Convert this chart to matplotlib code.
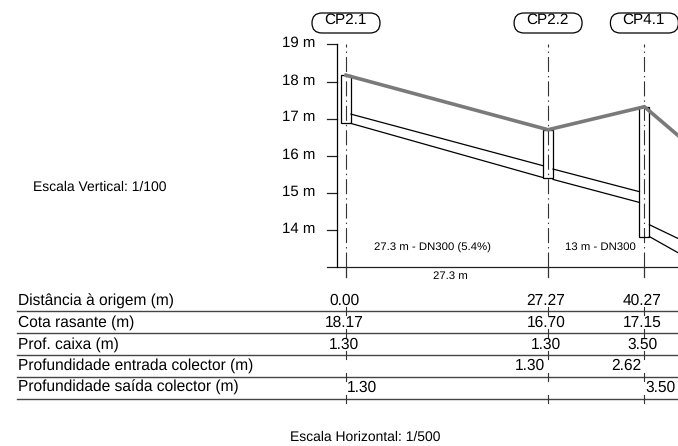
import matplotlib
matplotlib.use('Agg')
import matplotlib.pyplot as plt
from matplotlib.patches import FancyBboxPatch, Rectangle

plt.rcParams['font.family'] = ['Liberation Sans', 'DejaVu Sans']
plt.rcParams['lines.scale_dashes'] = False
plt.rcParams['text.hinting'] = 'no_hinting'

# stations
names = ['CP2.1', 'CP2.2', 'CP4.1']
dist = [0.0, 27.27, 40.27]
top = [18.17, 16.70, 17.32]
bottom = [16.87, 15.39, 13.82]

# grey surface line, last point is past the right edge
surf_x = [0.0, 27.27, 40.27, 50.0]
surf_z = [18.17, 16.70, 17.32, 15.66]

# pipes
pipe_x = [[0.67, 26.6], [27.94, 39.6], [40.94, 50.0]]
pipe_up = [[17.12, 15.73], [15.64, 15.03], [14.14, 13.27]]
pipe_lo = [[16.87, 15.41], [15.36, 14.74], [13.82, 12.80]]
box_half = 0.67

yticks = [14, 15, 16, 17, 18, 19]

row_labels = ['Distância à origem (m)', 'Cota rasante (m)', 'Prof. caixa (m)',
              'Profundidade entrada colector (m)', 'Profundidade saída colector (m)']
row_dist = ['0.00', '27.27', '40.27']
row_cota = ['18.17', '16.70', '17.15']
row_prof = ['1.30', '1.30', '3.50']
row_ent = ['', '1.30', '2.62']
row_sai = ['1.30', '', '3.50']

W, H = 678, 446
fig = plt.figure(figsize=(W / 100, H / 100), dpi=100)

# pixel overlay for the layout, profile axes scaled in metres
pix = fig.add_axes([0, 0, 1, 1])
pix.set_xlim(0, W)
pix.set_ylim(H, 0)
pix.axis('off')
ax = fig.add_axes([0, 0, 1, 1])
ax.set_xlim((0 - 346) / 7.41, (W - 346) / 7.41)
ax.set_ylim(13 - (H - 267) / 37.1, 13 + 267 / 37.1)
ax.axis('off')
ax.patch.set_alpha(0)

dark = '#222222'
big = 11.2
small = 8.2

# vertical scale
ax.plot([-1.27, -1.27], [13, 19], color='black', lw=0.9)
for v in yticks:
    pix.plot([327, 337], [267 - (v - 13) * 37.1] * 2, color=dark, lw=0.9)
    pix.text(315, 267 - (v - 13) * 37.1 - 1, '%d m' % v, ha='right', va='center', fontsize=10.8)
pix.plot([327, W], [267, 267], color=dark, lw=0.9)

# station lines, boxes, pipes
for d, t, b, n in zip(dist, top, bottom, names):
    ax.plot([d, d], [13, 19], color='#333333', lw=0.8, linestyle=(0, (10.8, 2.9, 1.0, 2.9)), zorder=1)
    ax.plot([d, d], [13, 13 - 10 / 37.1], color='#333333', lw=0.9)
    ax.add_patch(Rectangle((d - box_half, b), 2 * box_half, t - b, fill=False, ec='black', lw=0.9))
    cx = 346 + d * 7.41
    pix.add_patch(FancyBboxPatch((cx - 34, 13), 68, 20, boxstyle='round,pad=0,rounding_size=10',
                                 fc='white', ec='black', lw=0.9, zorder=3))
    pix.text(cx - 1, 20, n, ha='center', va='center', fontsize=11, zorder=4)

for x, u, l in zip(pipe_x, pipe_up, pipe_lo):
    ax.plot(x, u, color='black', lw=0.9)
    ax.plot(x, l, color='black', lw=0.9)

ax.plot(surf_x, surf_z, color='#7a7a7a', lw=2.6, solid_joinstyle='miter', zorder=5)

pix.text(432, 248, '27.3 m - DN300 (5.4%)', ha='center', va='center', fontsize=small)
pix.text(600, 247, '13 m - DN300', ha='center', va='center', fontsize=small)
pix.text(450, 276, '27.3 m', ha='center', va='center', fontsize=small)

# table under the profile
row_lines = [311, 333, 355, 377, 399]
row_y = [301, 322.5, 345, 366, 387.5]
for rl, ry, lab in zip(row_lines, row_y, row_labels):
    pix.plot([17, W], [rl, rl], color='#444444', lw=1.0)
    pix.text(17.5, ry, lab, ha='left', va='center', fontsize=big)
    for d in dist:
        pix.plot([346 + d * 7.41] * 2, [rl - 4, rl + 4], color='#333333', lw=0.8)

for i, d in enumerate(dist):
    cx = 346 + d * 7.41
    pix.text(cx - 2, row_y[0], row_dist[i], ha='center', va='center', fontsize=big)
    pix.text(cx - 2, row_y[1], row_cota[i], ha='center', va='center', fontsize=big)
    pix.text(cx - 2, row_y[2], row_prof[i], ha='center', va='center', fontsize=big)
    pix.text(cx - 3, row_y[3], row_ent[i], ha='right', va='center', fontsize=big)
    pix.text(cx + 1, row_y[4], row_sai[i], ha='left', va='center', fontsize=big)

pix.text(33, 187, 'Escala Vertical: 1/100', ha='left', va='center', fontsize=10)
pix.text(290, 437, 'Escala Horizontal: 1/500', ha='left', va='center', fontsize=10)

fig.savefig('out.png', dpi=100)
